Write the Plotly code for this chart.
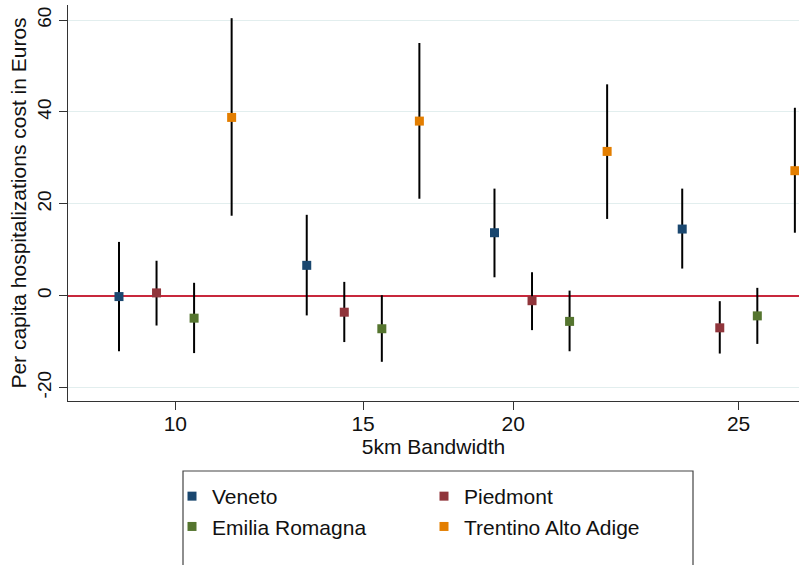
import plotly.graph_objects as go

regions = ["Veneto", "Piedmont", "Emilia Romagna", "Trentino Alto Adige"]
colors = ["#1a476f", "#90353b", "#55752f", "#e37e00"]

# x positions of the four bandwidth groups (one slot per region)
group_pos = [1, 6, 11, 16]
tick_pos = [2.5, 7.5, 11.5, 17.5]
tick_labels = ["10", "15", "20", "25"]
y_ticks = [-20, 0, 20, 40, 60]
y_tick_labels = ["-20", "0", "20", "40", "60"]

# point estimates, upper and lower CI bounds (per group)
est = {
    "Veneto":              [-0.2, 6.6, 13.7, 14.5],
    "Piedmont":            [0.6, -3.6, -1.1, -7.0],
    "Emilia Romagna":      [-4.9, -7.2, -5.6, -4.4],
    "Trentino Alto Adige": [38.8, 38.0, 31.4, 27.2],
}
upper = {
    "Veneto":              [11.7, 17.6, 23.3, 23.3],
    "Piedmont":            [7.6, 3.0, 5.1, -1.2],
    "Emilia Romagna":      [2.8, 0.1, 1.1, 1.7],
    "Trentino Alto Adige": [60.4, 55.0, 46.0, 40.9],
}
lower = {
    "Veneto":              [-12.1, -4.3, 4.0, 5.9],
    "Piedmont":            [-6.5, -10.1, -7.5, -12.6],
    "Emilia Romagna":      [-12.5, -14.4, -12.1, -10.5],
    "Trentino Alto Adige": [17.4, 21.1, 16.7, 13.7],
}

FONT = "Liberation Sans, Arial, Helvetica, sans-serif"
TXT = "#111"

fig = go.Figure()
for i, r in enumerate(regions):
    xs = [g + i for g in group_pos]
    ys = est[r]
    fig.add_trace(go.Scatter(
        x=xs, y=ys, mode="markers", name=r,
        marker=dict(symbol="square", size=9, color=colors[i], line=dict(width=0)),
        error_y=dict(type="data", symmetric=False,
                     array=[u - y for u, y in zip(upper[r], ys)],
                     arrayminus=[y - l for l, y in zip(lower[r], ys)],
                     color="black", thickness=2, width=0),
        legend="legend" if i in (0, 2) else "legend2",
        legendgroup=r,
        cliponaxis=False,
    ))

W, H = 799, 565
ml, mr, mt, mb = 68, 0, 5, 164
pw, ph = W - ml - mr, H - mt - mb

def px_x(p):
    return (p - ml) / pw

def px_y(p):
    return (H - mb - p) / ph

legend_common = dict(
    orientation="v", xanchor="left", yanchor="top",
    font=dict(family=FONT, size=21, color=TXT),
    bgcolor="rgba(0,0,0,0)", borderwidth=0, tracegroupgap=0,
    itemsizing="trace",
)

fig.update_layout(
    width=W, height=H,
    margin=dict(l=ml, r=mr, t=mt, b=mb, autoexpand=False),
    paper_bgcolor="white", plot_bgcolor="white",
    font=dict(family=FONT, size=20, color=TXT),
    showlegend=True,
    legend=dict(x=px_x(172), y=px_y(476), **legend_common),
    legend2=dict(x=px_x(424), y=px_y(476), **legend_common),
    xaxis=dict(
        range=[-0.358, 19.11], showgrid=False, zeroline=False, automargin=False,
        tickmode="array", tickvals=tick_pos, ticktext=tick_labels,
        ticks="outside", ticklen=8, tickwidth=1, tickcolor="#333",
        ticklabelstandoff=-4,
        showline=True, linecolor="#333", linewidth=1.2,
        tickfont=dict(size=21, family=FONT, color=TXT),
        title=dict(text="5km Bandwidth", font=dict(size=21, family=FONT, color=TXT), standoff=0),
    ),
    yaxis=dict(
        range=[-22.93, 63.27], automargin=False,
        tickmode="array", tickvals=y_ticks, ticktext=y_tick_labels,
        tickangle=-90,
        ticks="outside", ticklen=8, tickwidth=1, tickcolor="#333",
        showline=True, linecolor="#333", linewidth=1.2,
        showgrid=True, gridcolor="#e2eeee", gridwidth=1,
        zeroline=True, zerolinecolor="#c8283c", zerolinewidth=1.6,
        tickfont=dict(size=19, family=FONT, color=TXT),
        title=dict(text="Per capita hospitalizations cost in Euros",
                   font=dict(size=21, family=FONT, color=TXT), standoff=1),
    ),
    shapes=[dict(type="rect", xref="paper", yref="paper",
                 x0=px_x(183), x1=px_x(693), y0=px_y(471), y1=px_y(600),
                 line=dict(color="#444", width=1.2), fillcolor="rgba(0,0,0,0)",
                 layer="above")],
)

fig.write_html("out.html", config={"displayModeBar": False},
               post_script="document.body.style.margin='0';")
